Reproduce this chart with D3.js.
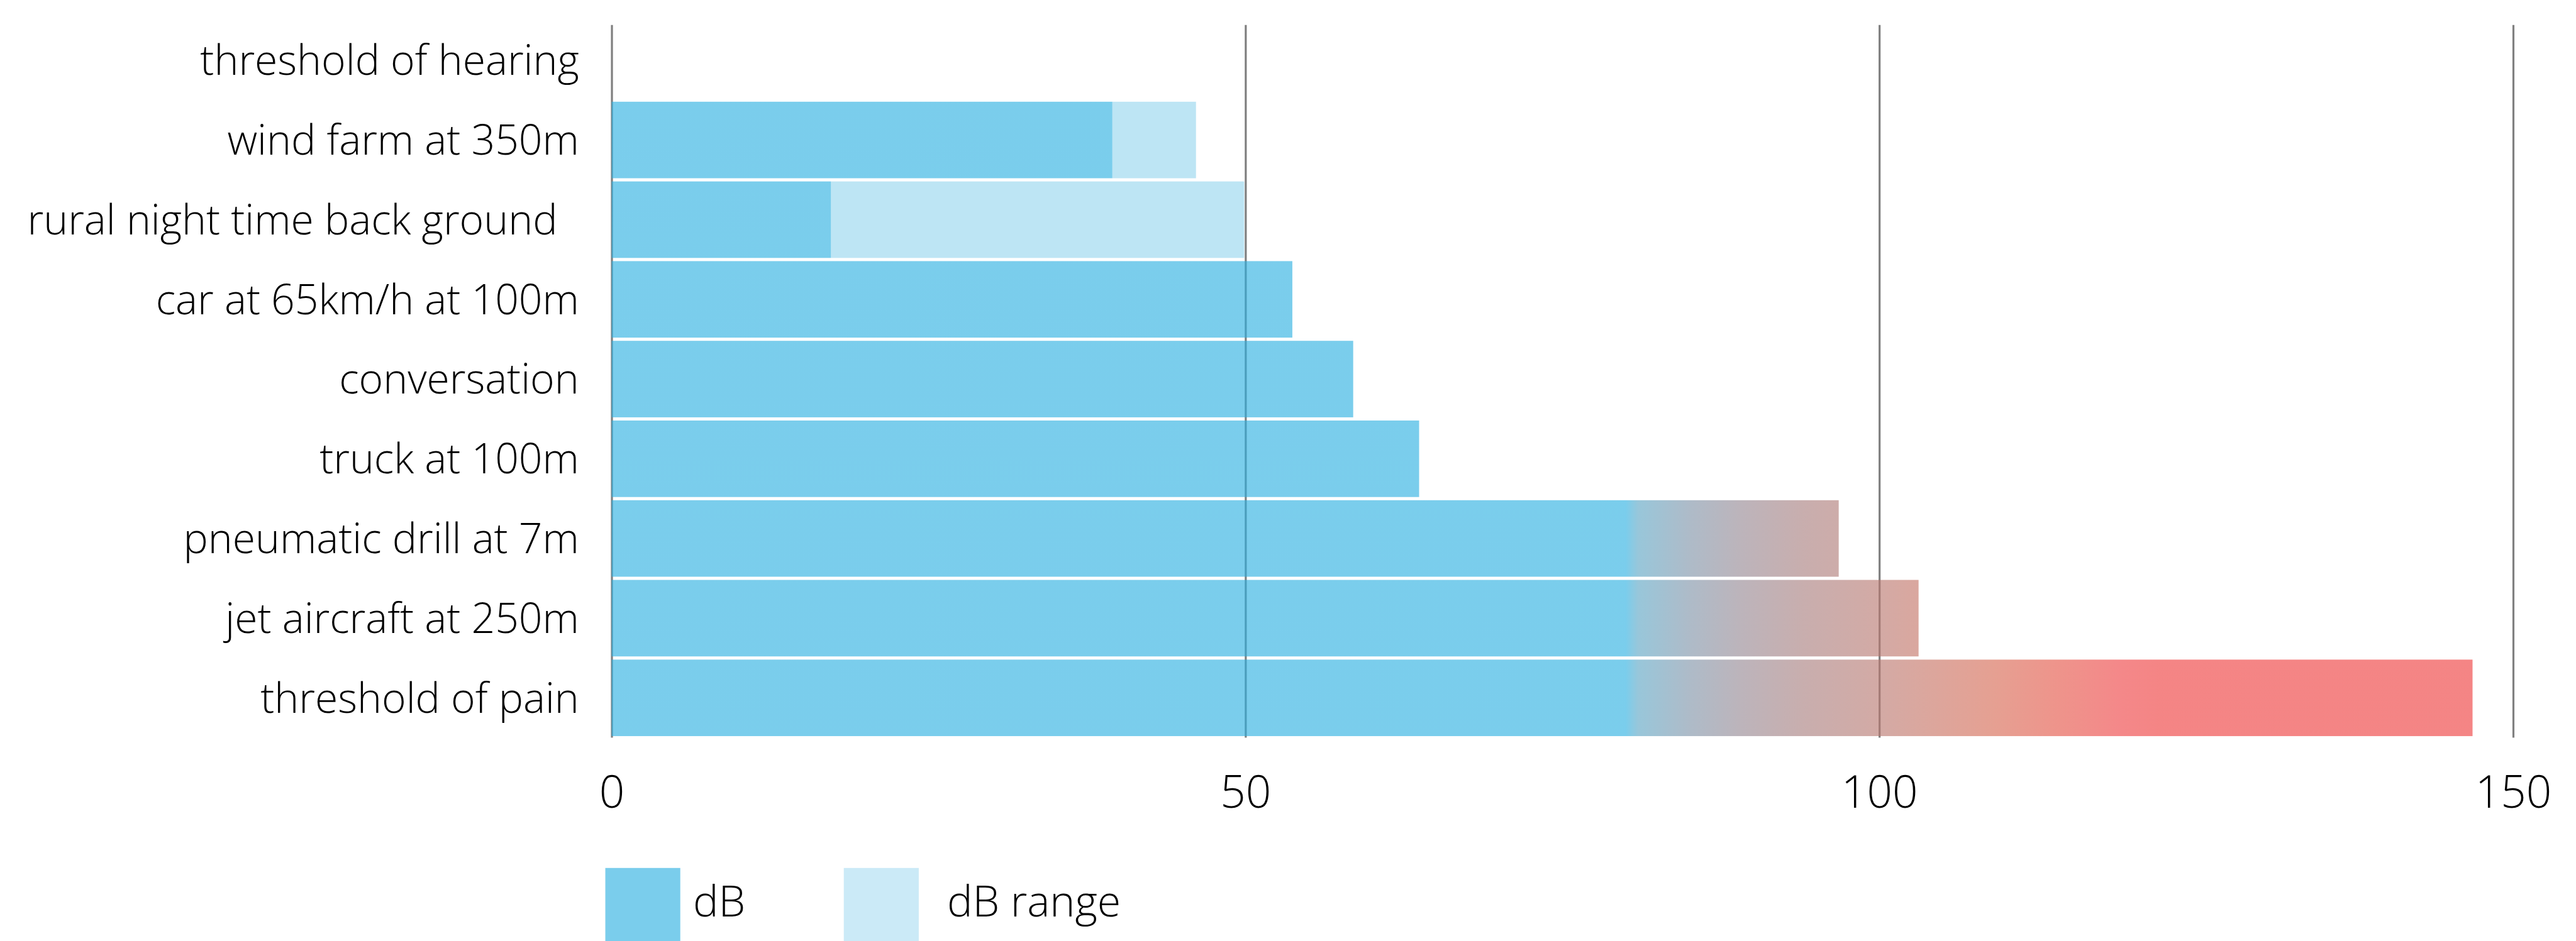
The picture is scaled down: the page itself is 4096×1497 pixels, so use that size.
<!DOCTYPE html>
<html>
<head>
<meta charset="utf-8">
<script src="https://cdn.jsdelivr.net/npm/d3@7"></script>
<style>
  html, body { margin: 0; padding: 0; background: #fff; }
  svg { display: block; }
  text { font-family: "Open Sans", "Noto Sans", sans-serif; font-weight: 300; fill: #000; }
</style>
</head>
<body>
<script>
// Sound levels of everyday sources, in decibels
const categories = [
  "threshold of hearing",
  "wind farm at 350m",
  "rural night time back ground\u00A0\u00A0",
  "car at 65km/h at 100m",
  "conversation",
  "truck at 100m",
  "pneumatic drill at 7m",
  "jet aircraft at 250m",
  "threshold of pain"
];
// main level of each source
const dbValues = [0, 39.5, 17.3, 53.7, 58.5, 63.7, 96.8, 103.1, 146.8];
// upper end of the range, where a source spans a range
const rangeMax = [null, 46.1, 49.9, null, null, null, null, null, null];
const xTicks = [0, 50, 100, 150];
const legendLabels = ["dB", "dB range"];

const W = 4096, H = 1497;
const svg = d3.select("body").append("svg")
  .attr("width", W).attr("height", H);

const x = d3.scaleLinear().domain([0, 150]).range([972.5, 3996]);
const y = d3.scaleBand().domain(categories)
  .range([32.5, 1173.6]).paddingInner(0.04).paddingOuter(0.02);

// Bars are translucent, so gridlines beneath them show through darker
const barOpacity = 0.63;
function baseColor(visible) {
  const c = d3.rgb(visible);
  const f = v => Math.max(0, Math.min(255, (v - 255 * (1 - barOpacity)) / barOpacity));
  return d3.rgb(f(c.r), f(c.g), f(c.b)).formatHex();
}

// loudness gradient: blue turning to red above ~80 dB
const gradStops = [
  [80.0, "#7acdec"], [81.0, "#98c6da"], [85.0, "#aebbc8"], [89.0, "#bcb4bb"],
  [94.0, "#c8aeae"], [100.0, "#d3aaa5"], [104.0, "#dca69d"], [109.0, "#e5a092"],
  [114.0, "#ee948b"], [119.0, "#f48889"], [122.0, "#f48585"]
];
const g0 = gradStops[0][0], g1 = gradStops[gradStops.length - 1][0];
const defs = svg.append("defs");
const lg = defs.append("linearGradient").attr("id", "loud")
  .attr("gradientUnits", "userSpaceOnUse")
  .attr("x1", x(g0)).attr("x2", x(g1)).attr("y1", 0).attr("y2", 0);
lg.selectAll("stop").data(gradStops).join("stop")
  .attr("offset", d => (d[0] - g0) / (g1 - g0))
  .attr("stop-color", d => baseColor(d[1]));

// gridlines and tick labels
const axisY = 1173.5;
const axis = svg.append("g")
  .attr("transform", `translate(0,${axisY})`)
  .call(d3.axisBottom(x).tickValues(xTicks).tickSize(-(axisY - 39.7)).tickFormat(d3.format("d")));
axis.select(".domain").remove();
axis.selectAll(".tick line").attr("stroke", "#808080").attr("stroke-width", 3.2);
axis.selectAll(".tick text")
  .attr("y", 111.5).attr("dy", null)
  .attr("font-size", 71).attr("fill", "#000")
  .style("font-family", "'Open Sans', sans-serif")
  .style("font-weight", 300);

// range bars
const rows = categories.map((c, i) => ({ c, v: dbValues[i], r: rangeMax[i] }));
svg.append("g").selectAll("rect")
  .data(rows.filter(d => d.r != null)).join("rect")
  .attr("x", d => x(d.v))
  .attr("y", d => y(d.c))
  .attr("width", d => x(d.r) - x(d.v))
  .attr("height", y.bandwidth())
  .attr("fill", baseColor("#bde5f4"))
  .attr("opacity", barOpacity);

// main level bars
svg.append("g").selectAll("rect")
  .data(rows.filter(d => d.v > 0)).join("rect")
  .attr("x", x(0))
  .attr("y", d => y(d.c))
  .attr("width", d => x(d.v) - x(0))
  .attr("height", y.bandwidth())
  .attr("fill", "url(#loud)")
  .attr("opacity", barOpacity);

// category labels
svg.append("g").selectAll("text")
  .data(categories).join("text")
  .attr("x", 920.8)
  .attr("y", d => y(d) + y.bandwidth() / 2 + 23.3)
  .attr("text-anchor", "end")
  .attr("font-size", 66)
  .text(d => d);

// legend
const legendX = [962.5, 1341.7];
const legendTextX = [1102, 1506];
const legendFill = ["#7acdec", "#cbeaf7"];
const lgd = svg.append("g").selectAll("g")
  .data(legendLabels).join("g");
lgd.append("rect")
  .attr("x", (d, i) => legendX[i])
  .attr("y", 1380.8)
  .attr("width", 119.2)
  .attr("height", H - 1380.8)
  .attr("fill", (d, i) => legendFill[i]);
lgd.append("text")
  .attr("x", (d, i) => legendTextX[i])
  .attr("y", 1457.5)
  .attr("font-size", 68)
  .text(d => d);
</script>
</body>
</html>
